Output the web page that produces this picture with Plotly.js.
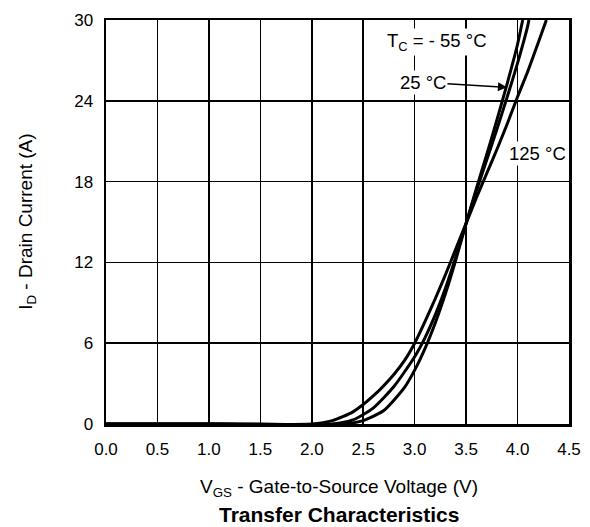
<!DOCTYPE html>
<html>
<head>
<meta charset="utf-8">
<script src="https://cdn.plot.ly/plotly-3.0.1.min.js"></script>
<style>html,body{margin:0;padding:0;background:#fff;}#chart{width:590px;height:527px;}</style>
</head>
<body>
<div id="chart"></div>
<script>
// Transfer characteristics: ID vs VGS at three case temperatures
const seriesNames = ["TC = -55 °C", "TC = 25 °C", "TC = 125 °C"];
const vgsM55 = [0.0, 1.2, 2.3, 2.5, 2.7, 2.9, 3.0, 3.1, 3.2, 3.3, 3.4, 3.5, 3.6, 3.7, 3.8, 3.9, 4.0, 4.05];
const idM55  = [0.0, 0.0, 0.0, 0.25, 1.0, 2.7, 4.0, 5.6, 7.5, 9.7, 12.2, 14.9, 17.5, 20.0, 22.6, 25.3, 28.2, 30.0];
const vgs25  = [0.0, 1.1, 2.2, 2.4, 2.6, 2.8, 3.0, 3.1, 3.2, 3.3, 3.4, 3.5, 3.6, 3.7, 3.8, 3.9, 4.0, 4.1, 4.11];
const id25   = [0.0, 0.0, 0.0, 0.3, 1.2, 2.8, 5.0, 6.4, 8.1, 10.1, 12.4, 14.9, 17.3, 19.6, 21.9, 24.3, 26.8, 29.6, 30.0];
const vgs125 = [0.0, 1.0, 2.0, 2.2, 2.4, 2.6, 2.8, 2.9, 3.0, 3.1, 3.2, 3.3, 3.4, 3.5, 3.6, 3.7, 3.8, 3.9, 4.0, 4.1, 4.2, 4.28];
const id125  = [0.0, 0.0, 0.0, 0.25, 0.9, 2.1, 3.7, 4.7, 6.0, 7.6, 9.3, 11.1, 13.0, 14.9, 16.8, 18.6, 20.4, 22.3, 24.3, 26.2, 28.3, 30.0];
const xTicks = [0.0, 0.5, 1.0, 1.5, 2.0, 2.5, 3.0, 3.5, 4.0, 4.5];
const yTicks = [0, 6, 12, 18, 24, 30];

const FONT = "Liberation Sans, Arial, Helvetica, sans-serif";
const lineStyle = {color: "#000", width: 3, shape: "spline", smoothing: 0.6};

const traces = [
  {x: vgsM55, y: idM55, name: seriesNames[0], mode: "lines", line: lineStyle, hoverinfo: "skip"},
  {x: vgs25,  y: id25,  name: seriesNames[1], mode: "lines", line: lineStyle, hoverinfo: "skip"},
  {x: vgs125, y: id125, name: seriesNames[2], mode: "lines", line: lineStyle, hoverinfo: "skip"}
];

const layout = {
  width: 590, height: 527,
  margin: {l: 106, r: 21, t: 20, b: 103},
  paper_bgcolor: "#fff", plot_bgcolor: "#fff",
  showlegend: false,
  font: {family: FONT, size: 17, color: "#000"},
  xaxis: {
    range: [0, 4.5], tickvals: xTicks, ticktext: xTicks.map(v => v.toFixed(1)),
    showgrid: true, gridcolor: "#000", gridwidth: 1.5,
    showline: true, linecolor: "#000", linewidth: 2.5, mirror: true,
    ticks: "", zeroline: false, fixedrange: true, ticklabelstandoff: 8,
    tickfont: {family: FONT, size: 17, color: "#000"}
  },
  yaxis: {
    range: [0, 30], tickvals: yTicks, ticktext: yTicks.map(String),
    showgrid: true, gridcolor: "#000", gridwidth: 1.5,
    showline: true, linecolor: "#000", linewidth: 2.5, mirror: true,
    ticks: "", zeroline: false, fixedrange: true, ticklabelstandoff: 7,
    tickfont: {family: FONT, size: 17, color: "#000"}
  },
  annotations: [
    {xref: "paper", yref: "paper", x: 0.503, y: -0.158, xanchor: "center", yanchor: "middle",
     text: "V<sub>GS</sub> - Gate-to-Source Voltage (V)", showarrow: false,
     font: {family: FONT, size: 19, color: "#000"}},
    {xref: "paper", yref: "paper", x: 0.503, y: -0.225, xanchor: "center", yanchor: "middle",
     text: "<b>Transfer Characteristics</b>", showarrow: false,
     font: {family: FONT, size: 21, color: "#000"}},
    {xref: "paper", yref: "paper", x: -0.171, y: 0.5, xanchor: "center", yanchor: "middle",
     text: "I<sub>D</sub> - Drain Current (A)", textangle: -90, showarrow: false,
     font: {family: FONT, size: 19, color: "#000"}},
    {x: 3.217, y: 28.36, text: "T<sub>C</sub> = - 55 °C", showarrow: false, bgcolor: "#fff",
     font: {family: FONT, size: 18.5, color: "#000"}},
    {x: 3.897, y: 25.0, ax: -84, ay: -5, text: "25 °C", showarrow: true, bgcolor: "#fff",
     arrowhead: 2, arrowsize: 1.2, arrowwidth: 1.5, arrowcolor: "#000",
     font: {family: FONT, size: 18.5, color: "#000"}},
    {x: 4.19, y: 20.1, text: "125 °C", showarrow: false, bgcolor: "#fff",
     font: {family: FONT, size: 18.5, color: "#000"}}
  ]
};

Plotly.newPlot("chart", traces, layout, {staticPlot: true, displayModeBar: false});
</script>
</body>
</html>
